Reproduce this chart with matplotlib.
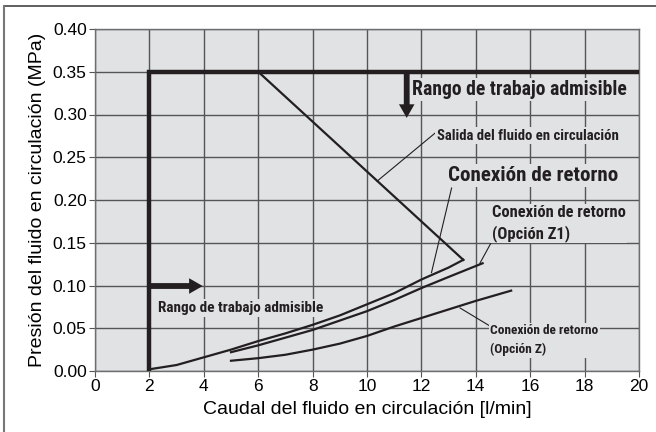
import matplotlib.pyplot as plt
from matplotlib import font_manager

# datos
salida_x = [6.0, 13.54]
salida_y = [0.35, 0.130]

retorno_x = [2.0, 3.0, 4.0, 5.0, 6.0, 7.0, 8.0, 9.0, 10.0, 11.0, 12.0, 13.0, 13.54]
retorno_y = [0.002, 0.007, 0.016, 0.025, 0.035, 0.044, 0.054, 0.065, 0.078, 0.091, 0.107, 0.121, 0.130]

z1_x = [5.0, 6.0, 7.0, 8.0, 9.0, 10.0, 11.0, 12.0, 13.0, 14.25]
z1_y = [0.022, 0.030, 0.039, 0.048, 0.059, 0.070, 0.083, 0.097, 0.110, 0.126]

z_x = [5.0, 6.0, 7.0, 8.0, 9.0, 10.0, 11.0, 12.0, 13.0, 14.0, 15.3]
z_y = [0.012, 0.015, 0.019, 0.025, 0.032, 0.041, 0.052, 0.062, 0.072, 0.082, 0.094]

limite_x = [2, 2, 20]
limite_y = [0, 0.35, 0.35]

xticks = list(range(0, 21, 2))
yticks = [0.00, 0.05, 0.10, 0.15, 0.20, 0.25, 0.30, 0.35, 0.40]
ytick_labels = ["0.00", "0.05", "0.10", "0.15", "0.20", "0.25", "0.30", "0.35", "0.40"]

names = set(f.name for f in font_manager.fontManager.ttflist)
narrow = "DejaVu Sans"
for cand in ["Liberation Sans Narrow", "Roboto Condensed", "Open Sans Condensed", "Roboto", "Liberation Sans"]:
    if cand in names:
        narrow = cand
        break
plt.rcParams["font.family"] = ["Liberation Sans", "DejaVu Sans"]

ink = "#231f20"
grid_c = "#555555"
bg = "#e1e2e4"

fig = plt.figure(figsize=(6.56, 4.32), dpi=100)
ax = fig.add_axes([95 / 656, 61 / 432, 544 / 656, 342 / 432])
ax.set_facecolor(bg)

ax.set_xlim(0, 20)
ax.set_ylim(0, 0.4)
ax.set_xticks(xticks)
ax.set_yticks(yticks)
ax.set_yticklabels(ytick_labels)
ax.tick_params(labelsize=12.5, length=4, width=0.8, color=grid_c, pad=2)
ax.grid(True, color=grid_c, lw=1.0)
ax.set_axisbelow(True)
for s in ax.spines.values():
    s.set_color("#6d6e70")
    s.set_linewidth(1.0)

ax.set_xlabel("Caudal del fluido en circulación [l/min]", fontsize=14, labelpad=5)
ax.set_ylabel("Presión del fluido en circulación (MPa)", fontsize=14, labelpad=5)

ax.plot(limite_x, limite_y, color=ink, lw=3.2, solid_joinstyle="miter", zorder=4)
ax.plot(salida_x, salida_y, color=ink, lw=1.6, zorder=4)
ax.plot(retorno_x, retorno_y, color=ink, lw=1.6, zorder=4)
ax.plot(z1_x, z1_y, color=ink, lw=1.6, zorder=4)
ax.plot(z_x, z_y, color=ink, lw=1.6, zorder=4)

arr = dict(arrowstyle="simple,head_length=0.7,head_width=0.8,tail_width=0.3",
           mutation_scale=14, fc=ink, ec="none", shrinkA=0, shrinkB=0)
ax.annotate("", xy=(11.46, 0.296), xytext=(11.46, 0.35), arrowprops=arr, zorder=5)
ax.annotate("", xy=(3.96, 0.0994), xytext=(2.0, 0.0994), arrowprops=arr, zorder=5)

box = dict(facecolor=bg, edgecolor="none", pad=1.0)
renderer = fig.canvas.get_renderer()


def label(x, y, s, width_px, ls=1.3):
    # ajusta el tamano para que el texto ocupe el ancho del original
    t = ax.text(x, y, s, fontsize=10, fontweight="bold", family=narrow, color=ink,
                va="center", ha="left", linespacing=ls, bbox=box, zorder=6)
    w = t.get_window_extent(renderer).width
    t.set_fontsize(10 * width_px / w)
    return t


label(11.64, 0.3287, "Rango de trabajo admisible", 215)
label(2.32, 0.0737, "Rango de trabajo admisible", 167)
label(12.57, 0.275, "Salida del fluido en circulación", 182)
label(12.98, 0.229, "Conexión de retorno", 170)
label(14.58, 0.1725, "Conexión de retorno\n(Opción Z1)", 134, ls=1.35)
label(14.52, 0.036, "Conexión de retorno\n(Opción Z)", 108, ls=1.55)

# lineas guia
ax.plot([12.55, 10.37], [0.2795, 0.222], color=ink, lw=0.8, zorder=5)
ax.plot([13.11, 12.37], [0.214, 0.115], color=ink, lw=0.8, zorder=5)
ax.plot([14.58, 14.15], [0.151, 0.126], color=ink, lw=0.8, zorder=5)
ax.plot([14.52, 13.42], [0.0526, 0.0737], color=ink, lw=0.8, zorder=5)

# marco de la figura
fig.add_artist(plt.Line2D([4 / 656, 1], [1 - 6 / 432, 1 - 6 / 432], color="#444444", lw=1.2))
fig.add_artist(plt.Line2D([4 / 656, 4 / 656], [0, 1 - 6 / 432], color="#777777", lw=1.5))

fig.savefig("out.png", dpi=100)
